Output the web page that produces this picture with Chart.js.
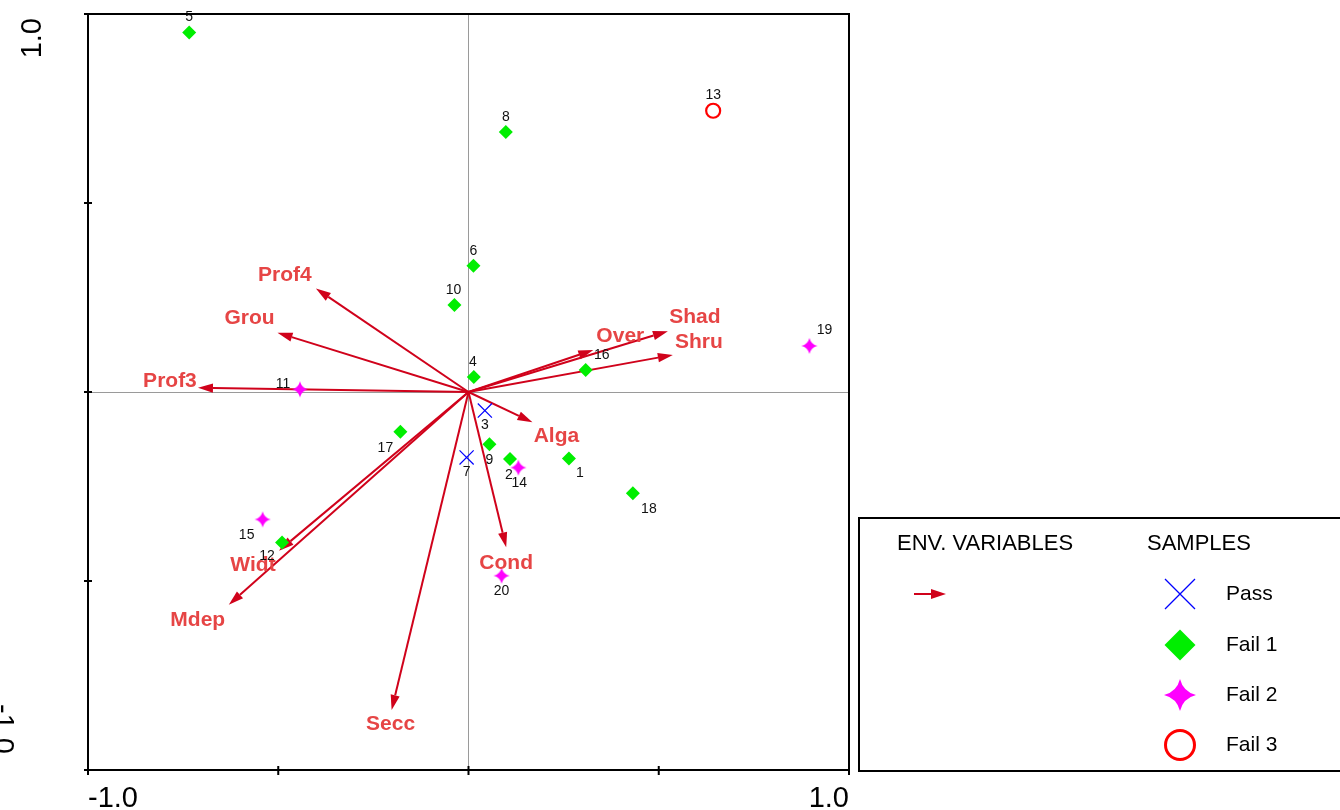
<!DOCTYPE html>
<html>
<head>
<meta charset="utf-8">
<title>Ordination biplot</title>
<script src="https://cdn.jsdelivr.net/npm/chart.js@4.4.1/dist/chart.umd.min.js"></script>
<style>
  html, body { margin: 0; padding: 0; background: #ffffff; overflow: hidden; }
  canvas { display: block; }
</style>
</head>
<body>
<canvas id="biplot" width="1340" height="810" style="width:1340px;height:810px"></canvas>
<script>
// ---- Sample scores (axis 1, axis 2) grouped by class ----
const passIds  = ['3', '7'];
const passX    = [0.043, -0.005];
const passY    = [-0.049, -0.173];

const fail1Ids = ['5', '8', '6', '10', '4', '16', '17', '9', '2', '1', '18', '12'];
const fail1X   = [-0.734, 0.098, 0.013, -0.037, 0.014, 0.308, -0.179, 0.055, 0.109, 0.264, 0.432, -0.490];
const fail1Y   = [0.951, 0.688, 0.334, 0.230, 0.040, 0.058, -0.105, -0.138, -0.177, -0.176, -0.268, -0.398];

const fail2Ids = ['19', '11', '14', '15', '20'];
const fail2X   = [0.896, -0.443, 0.131, -0.541, 0.087];
const fail2Y   = [0.122, 0.007, -0.200, -0.337, -0.486];

const fail3Ids = ['13'];
const fail3X   = [0.643];
const fail3Y   = [0.744];

// ---- Environmental variable vectors ----
const envNames = ['Prof4', 'Grou', 'Prof3', 'Over', 'Shad', 'Shru', 'Alga', 'Cond', 'Secc', 'Mdep', 'Widt'];
const envX     = [-0.401, -0.502, -0.711, 0.328, 0.524, 0.537, 0.168, 0.099, -0.202, -0.630, -0.498];
const envY     = [0.274, 0.157, 0.011, 0.111, 0.161, 0.098, -0.080, -0.411, -0.841, -0.563, -0.420];

// ---- Axis ticks ----
const tickValues  = [-1, -0.5, 0, 0.5, 1];
const xTickLabels = ['-1.0', '1.0'];
const yTickLabels = ['1.0', '-1.0'];

// ---- Legend entries ----
const legendTitles  = ['ENV. VARIABLES', 'SAMPLES'];
const legendClasses = ['Pass', 'Fail 1', 'Fail 2', 'Fail 3'];

// ---- Styling / label placement (pixels) ----
const ARROW_COLOR = '#d0021b';
const ENV_TEXT_COLOR = '#e64545';
const FONT = '"Liberation Sans", Arial, Helvetica, sans-serif';

const envLabelOffset = {
  Prof4: [-31, -13], Grou: [-28, -14], Prof3: [-28, -7], Over: [27, -14],
  Shad: [27, -14], Shru: [26, -13], Alga: [24, 14], Cond: [0, 16],
  Secc: [-1, 14], Mdep: [-31, 15], Widt: [-26, 14]
};
const sampleLabelOffset = {
  '5': [0, -15], '8': [0, -15], '13': [0, -16], '6': [0, -15], '10': [-1, -15],
  '4': [-1, -15], '16': [16, -15], '19': [15, -16], '11': [-17, -5], '3': [0, 15],
  '17': [-15, 16], '9': [0, 16], '7': [0, 15], '2': [-1, 16], '14': [1, 16],
  '1': [11, 15], '18': [16, 16], '15': [-16, 16], '12': [-15, 14], '20': [0, 15]
};

function toPoints(xs, ys) { return xs.map((v, i) => ({ x: v, y: ys[i] })); }

// four-pointed star used for the "Fail 2" class
function starPath(g, cx, cy, r) {
  const k = 0.2 * r;
  g.beginPath();
  g.moveTo(cx, cy - r);
  g.quadraticCurveTo(cx + k, cy - k, cx + r, cy);
  g.quadraticCurveTo(cx + k, cy + k, cx, cy + r);
  g.quadraticCurveTo(cx - k, cy + k, cx - r, cy);
  g.quadraticCurveTo(cx - k, cy - k, cx, cy - r);
  g.closePath();
}
function starImage(r, color) {
  const c = document.createElement('canvas');
  const s = Math.ceil(2 * r + 2);
  c.width = s; c.height = s;
  const g = c.getContext('2d');
  starPath(g, s / 2, s / 2, r);
  g.fillStyle = color;
  g.fill();
  return c;
}

function drawArrow(ctx, x0, y0, x1, y1, headLen, headHalf, color, width) {
  const ang = Math.atan2(y1 - y0, x1 - x0);
  const bx = x1 - headLen * Math.cos(ang);
  const by = y1 - headLen * Math.sin(ang);
  ctx.strokeStyle = color;
  ctx.fillStyle = color;
  ctx.lineWidth = width;
  ctx.beginPath();
  ctx.moveTo(x0, y0);
  ctx.lineTo(bx, by);
  ctx.stroke();
  ctx.beginPath();
  ctx.moveTo(x1, y1);
  ctx.lineTo(bx + headHalf * Math.sin(ang), by - headHalf * Math.cos(ang));
  ctx.lineTo(bx - headHalf * Math.sin(ang), by + headHalf * Math.cos(ang));
  ctx.closePath();
  ctx.fill();
}

const biplotDecor = {
  id: 'biplotDecor',
  beforeDatasetsDraw(chart) {
    const { ctx, chartArea: a, scales: { x, y } } = chart;
    const x0 = x.getPixelForValue(0), y0 = y.getPixelForValue(0);
    ctx.save();
    // reference lines through the origin
    ctx.strokeStyle = '#9a9a9a';
    ctx.lineWidth = 1;
    ctx.beginPath();
    ctx.moveTo(a.left, Math.round(y0) + 0.5); ctx.lineTo(a.right, Math.round(y0) + 0.5);
    ctx.moveTo(x0, a.top); ctx.lineTo(x0, a.bottom);
    ctx.stroke();
    // environmental vectors
    envNames.forEach((n, i) => {
      drawArrow(ctx, x0, y0, x.getPixelForValue(envX[i]), y.getPixelForValue(envY[i]), 15, 4.6, ARROW_COLOR, 2);
    });
    ctx.restore();
  },
  afterDatasetsDraw(chart) {
    const { ctx, scales: { x, y } } = chart;
    ctx.save();
    // vector names
    ctx.font = 'bold 21px ' + FONT;
    ctx.fillStyle = ENV_TEXT_COLOR;
    ctx.textAlign = 'center';
    ctx.textBaseline = 'middle';
    envNames.forEach((n, i) => {
      const o = envLabelOffset[n];
      ctx.fillText(n, x.getPixelForValue(envX[i]) + o[0], y.getPixelForValue(envY[i]) + o[1]);
    });
    // sample numbers
    ctx.font = '14px ' + FONT;
    ctx.fillStyle = '#111111';
    chart.data.datasets.forEach((ds, di) => {
      const meta = chart.getDatasetMeta(di);
      meta.data.forEach((pt, j) => {
        const id = ds.ids[j];
        const o = sampleLabelOffset[id] || [0, -15];
        ctx.fillText(id, pt.x + o[0], pt.y + o[1]);
      });
    });
    ctx.restore();
  },
  afterDraw(chart) {
    const { ctx, chartArea: a, scales: { x, y } } = chart;
    ctx.save();
    // frame
    ctx.strokeStyle = '#000000';
    ctx.lineWidth = 2;
    ctx.strokeRect(a.left, a.top, a.right - a.left, a.bottom - a.top);
    // tick crosses
    ctx.beginPath();
    tickValues.forEach(v => {
      const py = y.getPixelForValue(v);
      ctx.moveTo(a.left - 4, py); ctx.lineTo(a.left + 4, py);
      const px = x.getPixelForValue(v);
      ctx.moveTo(px, a.bottom - 4); ctx.lineTo(px, a.bottom + 5);
    });
    ctx.stroke();

    // axis end labels
    ctx.fillStyle = '#000000';
    ctx.font = '29px ' + FONT;
    ctx.textBaseline = 'alphabetic';
    ctx.textAlign = 'left';
    ctx.fillText(xTickLabels[0], x.getPixelForValue(-1), 807);
    ctx.textAlign = 'right';
    ctx.fillText(xTickLabels[1], x.getPixelForValue(1), 807);

    ctx.save();
    ctx.translate(41, y.getPixelForValue(1) + 4);
    ctx.rotate(-Math.PI / 2);
    ctx.textAlign = 'right';
    ctx.fillText(yTickLabels[0], 0, 0);
    ctx.restore();
    ctx.save();
    ctx.translate(-6, y.getPixelForValue(-1) - 66);
    ctx.rotate(Math.PI / 2);
    ctx.textAlign = 'left';
    ctx.fillText(yTickLabels[1], 0, 0);
    ctx.restore();

    // legend box
    const L = { left: 859, top: 518, bottom: 771 };
    ctx.lineWidth = 2;
    ctx.strokeStyle = '#000000';
    ctx.strokeRect(L.left, L.top, 1400 - L.left, L.bottom - L.top);
    ctx.font = '22px ' + FONT;
    ctx.textAlign = 'left';
    ctx.textBaseline = 'middle';
    ctx.fillText(legendTitles[0], 897, 544);
    ctx.fillText(legendTitles[1], 1147, 544);
    drawArrow(ctx, 914, 594, 946, 594, 15, 5, ARROW_COLOR, 2);

    const sx = 1180, rows = [594, 645, 695, 745];
    // Pass
    ctx.strokeStyle = '#0000ff';
    ctx.lineWidth = 1.3;
    ctx.beginPath();
    ctx.moveTo(sx - 15, rows[0] - 15); ctx.lineTo(sx + 15, rows[0] + 15);
    ctx.moveTo(sx + 15, rows[0] - 15); ctx.lineTo(sx - 15, rows[0] + 15);
    ctx.stroke();
    // Fail 1
    ctx.fillStyle = '#00ee00';
    ctx.beginPath();
    ctx.moveTo(sx, rows[1] - 15.5); ctx.lineTo(sx + 15.5, rows[1]);
    ctx.lineTo(sx, rows[1] + 15.5); ctx.lineTo(sx - 15.5, rows[1]);
    ctx.closePath(); ctx.fill();
    // Fail 2
    ctx.fillStyle = '#ff00ff';
    starPath(ctx, sx, rows[2], 16);
    ctx.fill();
    // Fail 3
    ctx.strokeStyle = '#ff0000';
    ctx.lineWidth = 3;
    ctx.beginPath();
    ctx.arc(sx, rows[3], 14.5, 0, Math.PI * 2);
    ctx.stroke();

    ctx.fillStyle = '#000000';
    ctx.font = '21px ' + FONT;
    legendClasses.forEach((t, i) => ctx.fillText(t, 1226, rows[i]));
    ctx.restore();
  }
};

new Chart(document.getElementById('biplot'), {
  type: 'scatter',
  data: {
    datasets: [
      { label: 'Pass', ids: passIds, data: toPoints(passX, passY),
        pointStyle: 'crossRot', pointRadius: 10, borderColor: '#0000ff', borderWidth: 1.2,
        backgroundColor: '#0000ff' },
      { label: 'Fail 1', ids: fail1Ids, data: toPoints(fail1X, fail1Y),
        pointStyle: 'rectRot', pointRadius: 7, backgroundColor: '#00ee00', borderWidth: 0 },
      { label: 'Fail 2', ids: fail2Ids, data: toPoints(fail2X, fail2Y),
        pointStyle: starImage(8, '#ff00ff'), pointRadius: 8, backgroundColor: '#ff00ff', borderWidth: 0 },
      { label: 'Fail 3', ids: fail3Ids, data: toPoints(fail3X, fail3Y),
        pointStyle: 'circle', pointRadius: 7, backgroundColor: 'rgba(0,0,0,0)',
        borderColor: '#ff0000', borderWidth: 2.2 }
    ]
  },
  options: {
    responsive: false,
    animation: false,
    devicePixelRatio: 1,
    events: [],
    layout: { padding: { left: 88, top: 14, right: 491, bottom: 40 } },
    scales: {
      x: { type: 'linear', min: -1, max: 1, display: false },
      y: { type: 'linear', min: -1, max: 1, display: false }
    },
    plugins: { legend: { display: false }, tooltip: { enabled: false } }
  },
  plugins: [biplotDecor]
});
</script>
</body>
</html>
